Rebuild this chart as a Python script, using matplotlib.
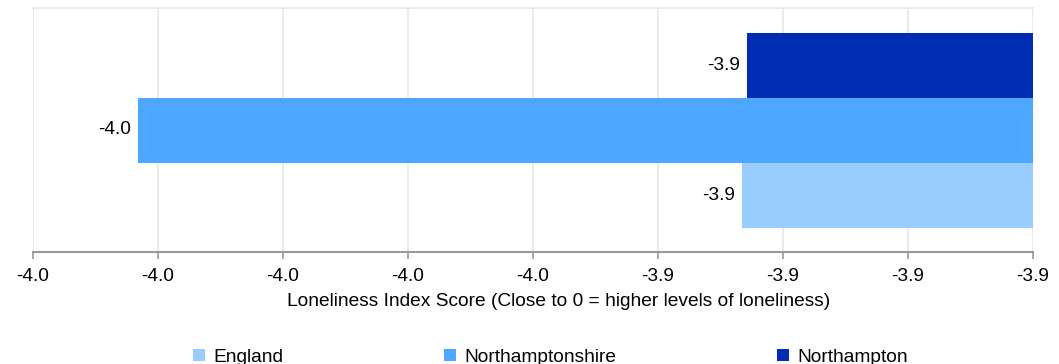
import matplotlib.pyplot as plt
from matplotlib.patches import Patch

# ===========================
# DATA
# ===========================
series_names = ["Northampton", "Northamptonshire", "England"]   # top to bottom
series_values = [-3.9429, -3.9916, -3.9433]
series_labels = ["-3.9", "-4.0", "-3.9"]
series_colors = ["#002db3", "#4da6ff", "#99ccff"]

x_ticks = [-4.00, -3.99, -3.98, -3.97, -3.96, -3.95, -3.94, -3.93, -3.92]
x_tick_labels = ["-4.0", "-4.0", "-4.0", "-4.0", "-4.0", "-3.9", "-3.9", "-3.9", "-3.9"]

legend_order = ["England", "Northamptonshire", "Northampton"]

plt.rcParams['font.family'] = ['Liberation Sans', 'DejaVu Sans']
FS = 13.8

fig = plt.figure(figsize=(10.59, 3.64), dpi=100)
ax = fig.add_axes([33 / 1059, 112 / 364, 1000 / 1059, 244 / 364])

bar_h = 65 / 244
offsets = [bar_h, 0, -bar_h]
for name, val, lab, col, off in zip(series_names, series_values, series_labels,
                                     series_colors, offsets):
    ax.barh(off, val, left=0, height=bar_h, color=col, edgecolor=col, linewidth=0)
    ax.annotate(lab, xy=(val, off), xytext=(-5, 0), textcoords="offset points",
                ha="right", va="center", fontsize=FS, color="black")

ax.set_xlim(x_ticks[0], x_ticks[-1])
ax.set_ylim(-0.5, 0.5)
ax.set_xticks(x_ticks)
ax.set_xticklabels(x_tick_labels, fontsize=FS)
ax.set_yticks([])

ax.grid(axis="x", color="#e6e6e6", linewidth=1.2)
ax.set_axisbelow(True)

for s in ["left", "right"]:
    ax.spines[s].set_visible(False)
ax.spines["top"].set_color("#e6e6e6")
ax.spines["top"].set_linewidth(1.2)
ax.spines["bottom"].set_color("#999999")
ax.spines["bottom"].set_linewidth(1.5)
ax.tick_params(axis="x", direction="out", length=5, width=1.2, color="#999999", pad=6.5)

ax.set_xlabel("Loneliness Index Score (Close to 0 = higher levels of loneliness)",
              fontsize=FS)
# axis title sits a bit right of the plot centre in the original
ax.xaxis.set_label_coords(0.526, -0.17)

handles = [Patch(facecolor=series_colors[series_names.index(n)], label=n) for n in legend_order]
fig.legend(handles=handles, loc="center", bbox_to_anchor=(0.52, 1 - 357 / 364), ncol=3,
           frameon=False, fontsize=FS, handlelength=0.6, handleheight=0.6,
           handletextpad=0.45, columnspacing=8.4)

plt.savefig("out.png", dpi=100)
plt.close()
